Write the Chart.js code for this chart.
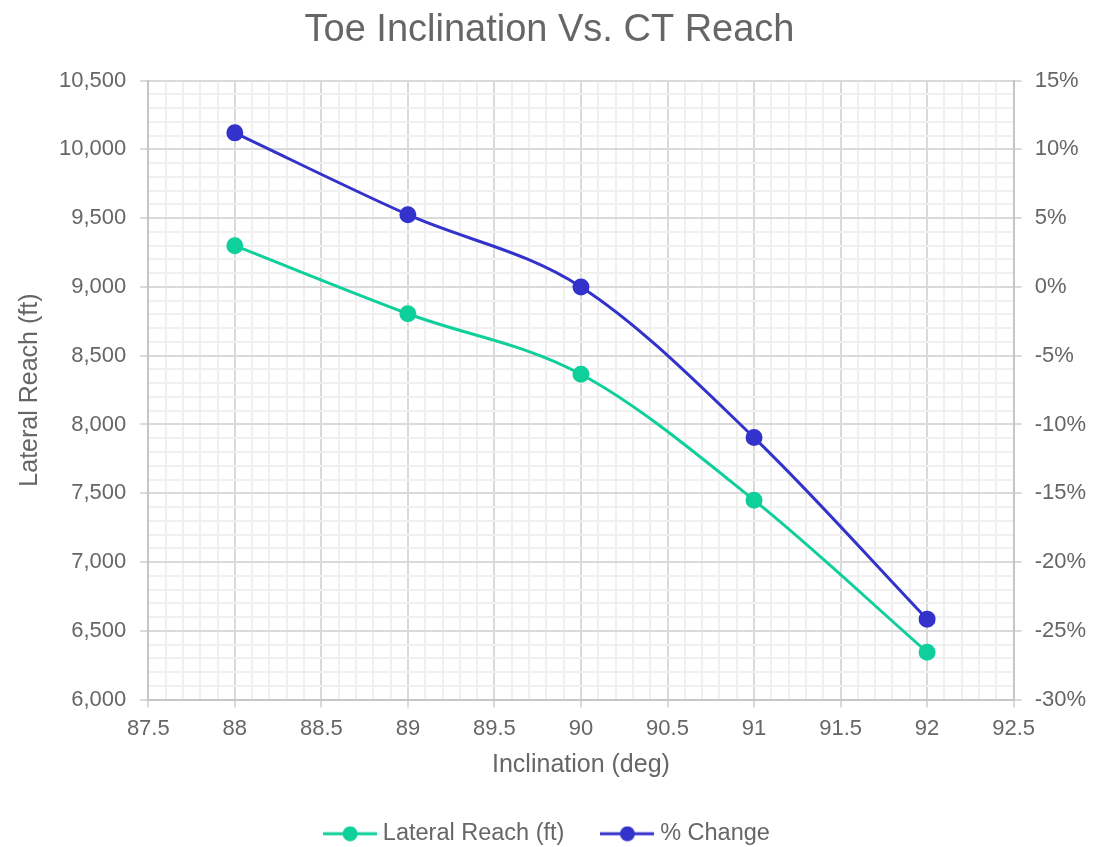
<!DOCTYPE html>
<html lang="en">
<head>
    <meta charset="UTF-8">
    <title>Toe Inclination Vs. CT Reach</title>
    <script src="https://cdn.jsdelivr.net/npm/chart.js"></script>
    <style>
        body { margin: 0; padding: 0; background: #fff; }
        #wrap { width: 1105px; height: 847px; position: relative; }
    </style>
</head>
<body>

<div id="wrap">
    <canvas id="reachChart"></canvas>
</div>

<script>
    // data
    const inclination = [88, 89, 90, 91, 92];
    const lateralReach = [9300, 8805, 8365, 7450, 6345];
    const pctChange = [11.2, 5.25, 0, -10.95, -24.15];

    const greenCol = '#0fcf9b';
    const blueCol = '#3333cc';
    const textCol = '#666666';
    const fontFam = '"Liberation Sans", Arial, sans-serif';

    // legend marker: line with a dot in the middle
    function legendMarker(color) {
        const c = document.createElement('canvas');
        c.width = 54; c.height = 16;
        const g = c.getContext('2d');
        g.strokeStyle = color;
        g.lineWidth = 3;
        g.beginPath();
        g.moveTo(0, 8); g.lineTo(54, 8);
        g.stroke();
        g.fillStyle = color;
        g.beginPath();
        g.arc(27, 8, 7.5, 0, Math.PI * 2);
        g.fill();
        return c;
    }

    function isMajor(v, step) {
        const r = v / step;
        return Math.abs(r - Math.round(r)) < 1e-6;
    }

    const majorGrid = '#dadada';
    const minorGrid = '#f0f0f0';
    const borderCol = '#c6c6c6';

    const ctx = document.getElementById('reachChart').getContext('2d');
    new Chart(ctx, {
        type: 'line',
        data: {
            datasets: [{
                label: 'Lateral Reach (ft)',
                data: inclination.map((x, i) => ({ x: x, y: lateralReach[i] })),
                borderColor: greenCol,
                backgroundColor: greenCol,
                pointRadius: 7,
                pointHoverRadius: 7,
                borderWidth: 3,
                cubicInterpolationMode: 'monotone',
                yAxisID: 'y',
                fill: false
            }, {
                label: '% Change',
                data: inclination.map((x, i) => ({ x: x, y: pctChange[i] })),
                borderColor: blueCol,
                backgroundColor: blueCol,
                pointRadius: 7,
                pointHoverRadius: 7,
                borderWidth: 3,
                cubicInterpolationMode: 'monotone',
                yAxisID: 'y1',
                fill: false
            }]
        },
        options: {
            responsive: true,
            maintainAspectRatio: false,
            animation: false,
            layout: { padding: { left: 0, right: 6, top: 0, bottom: -8.5 } },
            plugins: {
                title: {
                    display: true,
                    text: 'Toe Inclination Vs. CT Reach',
                    color: textCol,
                    font: { family: fontFam, size: 38, weight: 'normal' },
                    padding: { top: 8, bottom: 27 }
                },
                legend: {
                    position: 'bottom',
                    labels: {
                        color: textCol,
                        font: { family: fontFam, size: 23.5 },
                        usePointStyle: true,
                        pointStyleWidth: 42,
                        padding: 42,
                        generateLabels: chart => chart.data.datasets.map((ds, i) => ({
                            text: ds.label,
                            pointStyle: legendMarker(ds.borderColor),
                            fillStyle: ds.borderColor,
                            strokeStyle: ds.borderColor,
                            fontColor: textCol,
                            lineWidth: 0,
                            hidden: !chart.isDatasetVisible(i),
                            datasetIndex: i
                        }))
                    }
                },
                tooltip: { enabled: false }
            },
            scales: {
                x: {
                    type: 'linear',
                    min: 87.5,
                    max: 92.5,
                    title: {
                        display: true,
                        text: 'Inclination (deg)',
                        color: textCol,
                        font: { family: fontFam, size: 25 },
                        padding: { top: 0, bottom: 0 }
                    },
                    ticks: {
                        stepSize: 0.1,
                        autoSkip: false,
                        maxRotation: 0,
                        padding: 8,
                        color: textCol,
                        font: { family: fontFam, size: 22 },
                        callback: v => isMajor(v, 0.5) ? String(Math.round(v * 10) / 10) : ''
                    },
                    grid: {
                        color: c => isMajor(c.tick.value, 0.5) ? majorGrid : minorGrid,
                        tickColor: c => isMajor(c.tick.value, 0.5) ? majorGrid : 'rgba(0,0,0,0)',
                        lineWidth: 2,
                        tickLength: 8
                    },
                    border: { color: borderCol, width: 2 }
                },
                y: {
                    type: 'linear',
                    position: 'left',
                    min: 6000,
                    max: 10500,
                    title: {
                        display: true,
                        text: 'Lateral Reach (ft)',
                        color: textCol,
                        font: { family: fontFam, size: 25 },
                        padding: { top: 15, bottom: 0 }
                    },
                    ticks: {
                        stepSize: 100,
                        autoSkip: false,
                        padding: 14,
                        color: textCol,
                        font: { family: fontFam, size: 22 },
                        callback: v => isMajor(v, 500) ? v.toLocaleString('en-US') : ''
                    },
                    grid: {
                        color: c => isMajor(c.tick.value, 500) ? majorGrid : minorGrid,
                        tickColor: c => isMajor(c.tick.value, 500) ? majorGrid : 'rgba(0,0,0,0)',
                        lineWidth: 2,
                        tickLength: 8
                    },
                    border: { color: borderCol, width: 2 }
                },
                y1: {
                    type: 'linear',
                    position: 'right',
                    min: -30,
                    max: 15,
                    ticks: {
                        stepSize: 5,
                        padding: 13,
                        color: textCol,
                        font: { family: fontFam, size: 22 },
                        callback: v => v + '%'
                    },
                    grid: {
                        drawOnChartArea: false,
                        color: majorGrid,
                        lineWidth: 2,
                        tickLength: 8
                    },
                    border: { color: borderCol, width: 2 }
                }
            }
        }
    });
</script>

</body>
</html>
